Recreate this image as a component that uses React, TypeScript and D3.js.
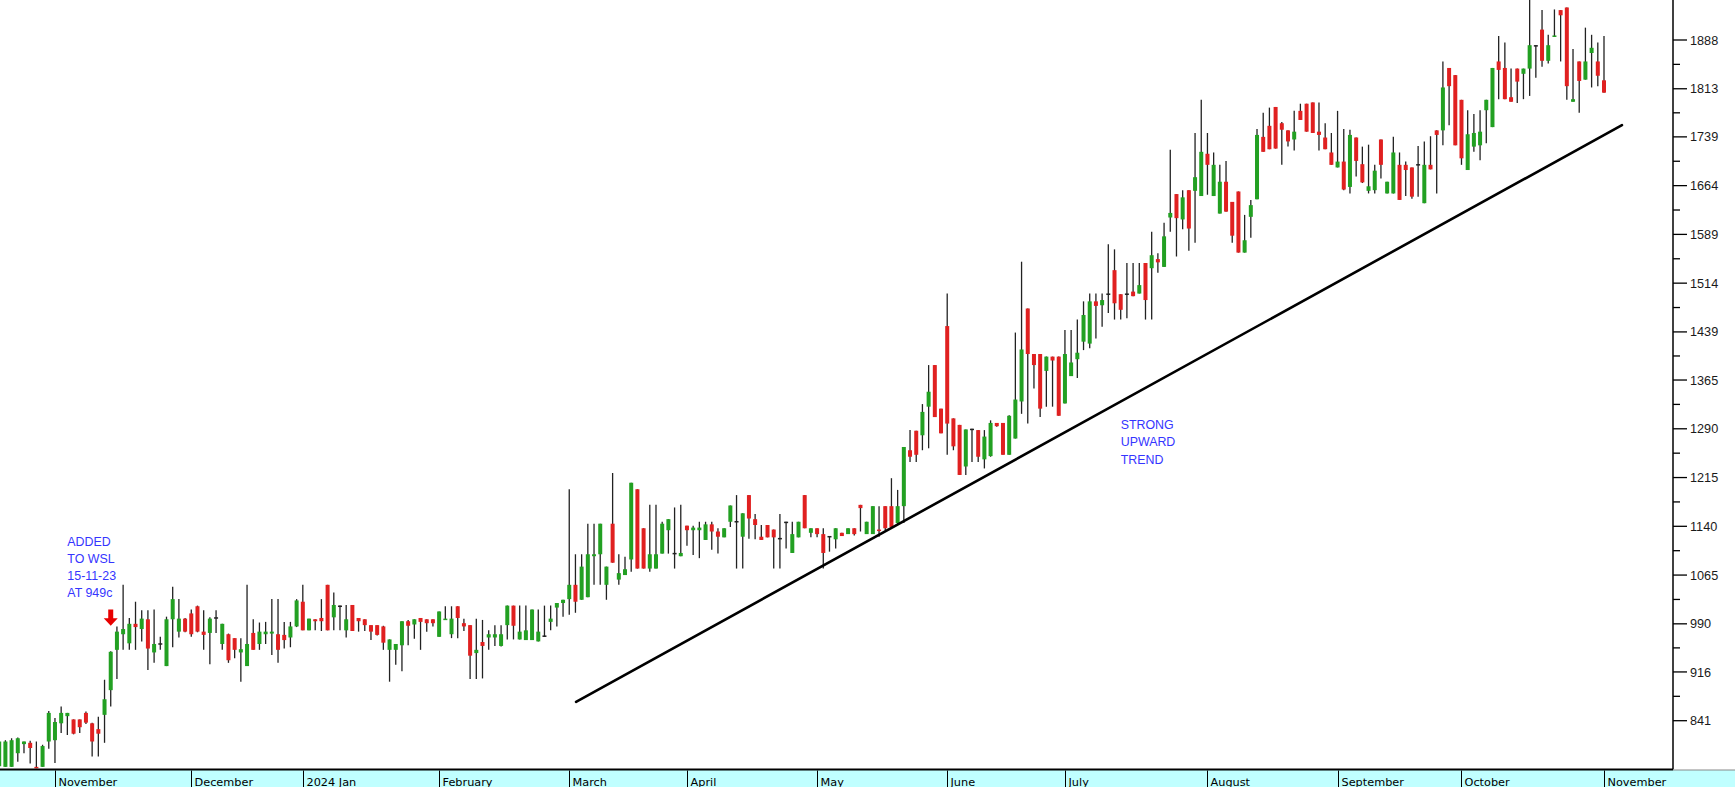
import React from 'react';
import * as d3 from 'd3';

// ---- data ----
const opens = [
  771, 770, 770, 791, 805, 807, 770, 770, 809, 811,
  837, 848, 843, 843, 853, 837, 828, 850, 888, 950,
  974, 960, 990, 982, 997, 946, 959, 925, 997, 978,
  998, 1006, 1017, 978, 976, 999, 959, 974, 968, 946,
  925, 976, 959, 974, 975, 974, 973, 969, 986, 1024,
  980, 997, 999, 1050, 1000, 1017, 980, 1019, 999, 997,
  988, 988, 986, 950, 950, 957, 994, 989, 999, 997,
  997, 970, 996, 974, 1017, 991, 988, 945, 962, 969,
  969, 956, 988, 1018, 966, 965, 965, 963, 971, 993,
  1015, 1022, 1028, 1050, 1027, 1031, 1094, 1097, 1050, 1144,
  1058, 1065, 1089, 1197, 1137, 1075, 1075, 1098, 1134, 1098,
  1094, 1141, 1134, 1134, 1119, 1143, 1132, 1123, 1147, 1147,
  1124, 1188, 1151, 1124, 1142, 1135, 1121, 1146, 1099, 1123,
  1188, 1130, 1137, 1128, 1124, 1120, 1130, 1128, 1137, 1173,
  1128, 1128, 1135, 1171, 1171, 1145, 1171, 1257, 1287, 1280,
  1324, 1388, 1321, 1448, 1306, 1296, 1232, 1289, 1288, 1243,
  1248, 1299, 1299, 1250, 1275, 1332, 1475, 1405, 1405, 1379,
  1401, 1401, 1329, 1371, 1397, 1424, 1421, 1486, 1480, 1497,
  1534, 1497, 1497, 1501, 1498, 1545, 1537, 1551, 1539, 1615,
  1651, 1612, 1657, 1656, 1648, 1713, 1648, 1621, 1670, 1639,
  1655, 1561, 1616, 1643, 1739, 1756, 1785, 1760, 1749, 1735,
  1779, 1790, 1792, 1747, 1738, 1715, 1692, 1701, 1662, 1738,
  1697, 1656, 1657, 1735, 1652, 1652, 1696, 1696, 1692, 1696,
  1637, 1696, 1749, 1749, 1845, 1834, 1796, 1688, 1724, 1726,
  1780, 1754, 1855, 1845, 1800, 1844, 1836, 1844, 1879, 1904,
  1856, 1893, 1934, 1938, 1793, 1855, 1827, 1868, 1855, 1826,
];
const highs = [
  812, 811, 814, 815, 809, 810, 809, 804, 856, 845,
  863, 853, 843, 843, 855, 838, 847, 904, 948, 986,
  1050, 999, 1024, 1011, 1011, 1012, 970, 1001, 1047, 1028,
  999, 1012, 1018, 1011, 1000, 1011, 990, 975, 968, 968,
  1050, 997, 992, 993, 1028, 1028, 993, 993, 1028, 1050,
  998, 997, 1028, 1050, 1038, 1018, 1019, 1019, 999, 997,
  988, 988, 987, 966, 959, 994, 996, 997, 999, 997,
  997, 1009, 1017, 1017, 1017, 998, 988, 998, 996, 980,
  988, 988, 1018, 1018, 1018, 1018, 1012, 1012, 1018, 1018,
  1022, 1027, 1197, 1097, 1097, 1144, 1144, 1144, 1078, 1222,
  1097, 1093, 1207, 1197, 1137, 1173, 1173, 1147, 1151, 1169,
  1173, 1141, 1141, 1147, 1147, 1147, 1137, 1137, 1172, 1188,
  1160, 1188, 1159, 1142, 1142, 1135, 1159, 1147, 1147, 1147,
  1188, 1137, 1137, 1137, 1125, 1137, 1130, 1137, 1137, 1173,
  1147, 1171, 1171, 1171, 1214, 1196, 1262, 1288, 1287, 1328,
  1388, 1388, 1321, 1498, 1306, 1296, 1289, 1290, 1288, 1288,
  1303, 1299, 1299, 1311, 1438, 1547, 1475, 1405, 1405, 1401,
  1401, 1401, 1442, 1442, 1458, 1486, 1498, 1498, 1498, 1574,
  1566, 1497, 1545, 1545, 1545, 1545, 1593, 1560, 1607, 1719,
  1651, 1657, 1657, 1745, 1796, 1745, 1715, 1696, 1702, 1639,
  1655, 1619, 1642, 1751, 1776, 1784, 1785, 1762, 1749, 1779,
  1790, 1790, 1792, 1792, 1760, 1745, 1779, 1751, 1750, 1738,
  1724, 1727, 1696, 1735, 1670, 1739, 1715, 1701, 1692, 1725,
  1732, 1740, 1749, 1855, 1845, 1834, 1796, 1780, 1774, 1780,
  1796, 1845, 1894, 1884, 1844, 1844, 1844, 1960, 1880, 1934,
  1896, 1935, 1934, 1938, 1874, 1855, 1907, 1896, 1884, 1894,
];
const lows = [
  768, 770, 770, 778, 791, 775, 768, 770, 798, 776,
  822, 819, 820, 822, 836, 786, 786, 807, 863, 905,
  950, 950, 950, 963, 919, 930, 950, 925, 954, 969,
  977, 970, 977, 950, 928, 976, 950, 930, 937, 901,
  925, 950, 950, 959, 942, 930, 952, 954, 985, 980,
  980, 980, 979, 980, 980, 980, 969, 979, 978, 979,
  965, 972, 950, 901, 927, 917, 957, 967, 950, 978,
  986, 970, 996, 968, 968, 979, 905, 905, 906, 950,
  956, 955, 966, 966, 966, 965, 965, 963, 970, 980,
  986, 1001, 1004, 1007, 1027, 1031, 1050, 1050, 1027, 1084,
  1050, 1065, 1070, 1075, 1075, 1070, 1075, 1098, 1098, 1075,
  1094, 1110, 1096, 1091, 1119, 1104, 1098, 1123, 1139, 1075,
  1075, 1121, 1120, 1119, 1123, 1075, 1075, 1106, 1099, 1123,
  1137, 1123, 1123, 1075, 1101, 1106, 1125, 1128, 1126, 1132,
  1128, 1128, 1124, 1134, 1139, 1142, 1145, 1239, 1239, 1257,
  1260, 1308, 1283, 1250, 1257, 1219, 1219, 1239, 1239, 1229,
  1247, 1293, 1250, 1250, 1275, 1313, 1298, 1352, 1308, 1324,
  1324, 1310, 1329, 1371, 1368, 1411, 1414, 1429, 1447, 1468,
  1458, 1458, 1460, 1494, 1498, 1458, 1458, 1530, 1539, 1593,
  1555, 1597, 1564, 1576, 1648, 1650, 1648, 1621, 1624, 1576,
  1561, 1561, 1584, 1643, 1716, 1720, 1721, 1696, 1724, 1718,
  1765, 1747, 1745, 1718, 1720, 1696, 1692, 1657, 1652, 1678,
  1668, 1652, 1652, 1675, 1652, 1652, 1642, 1648, 1644, 1647,
  1637, 1689, 1652, 1726, 1757, 1726, 1696, 1688, 1716, 1703,
  1729, 1754, 1797, 1797, 1793, 1791, 1797, 1802, 1830, 1847,
  1852, 1893, 1855, 1796, 1793, 1776, 1827, 1815, 1817, 1807,
];
const closes = [
  809, 809, 811, 814, 809, 799, 768, 802, 853, 839,
  853, 853, 821, 831, 838, 809, 821, 874, 947, 978,
  982, 990, 985, 998, 952, 959, 959, 997, 1028, 998,
  978, 974, 978, 973, 998, 999, 990, 934, 950, 951,
  959, 950, 978, 978, 978, 950, 965, 986, 1026, 980,
  998, 994, 994, 980, 1019, 1017, 997, 979, 994, 988,
  978, 973, 961, 966, 959, 994, 987, 997, 993, 991,
  991, 1009, 998, 998, 999, 986, 941, 950, 956, 974,
  974, 974, 1018, 987, 978, 980, 1012, 978, 971, 998,
  1022, 1027, 1050, 1024, 1078, 1097, 1097, 1144, 1078, 1084,
  1068, 1074, 1207, 1075, 1075, 1097, 1097, 1144, 1151, 1098,
  1099, 1134, 1138, 1138, 1143, 1132, 1124, 1137, 1172, 1147,
  1160, 1152, 1142, 1119, 1123, 1123, 1121, 1146, 1128, 1147,
  1137, 1137, 1128, 1099, 1124, 1137, 1125, 1137, 1128, 1168,
  1147, 1171, 1133, 1137, 1139, 1171, 1262, 1247, 1250, 1316,
  1347, 1308, 1283, 1298, 1263, 1219, 1289, 1289, 1247, 1278,
  1299, 1294, 1250, 1310, 1335, 1412, 1405, 1388, 1321, 1401,
  1395, 1310, 1405, 1392, 1407, 1465, 1486, 1479, 1488, 1497,
  1483, 1473, 1497, 1494, 1511, 1488, 1557, 1546, 1586, 1622,
  1614, 1646, 1598, 1677, 1716, 1696, 1696, 1670, 1624, 1587,
  1561, 1580, 1634, 1742, 1716, 1720, 1721, 1750, 1732, 1747,
  1765, 1747, 1745, 1742, 1720, 1696, 1701, 1658, 1742, 1702,
  1669, 1663, 1687, 1696, 1670, 1715, 1642, 1688, 1647, 1696,
  1696, 1689, 1742, 1815, 1817, 1726, 1706, 1743, 1745, 1747,
  1796, 1845, 1842, 1797, 1793, 1824, 1844, 1880, 1879, 1856,
  1880, 1895, 1926, 1817, 1797, 1825, 1855, 1876, 1833, 1807,
];

const yTicks = [841, 916, 990, 1065, 1140, 1215, 1290, 1365, 1439, 1514, 1589, 1664, 1739, 1813, 1888];
const monthLabels = ['November', 'December', '2024 Jan', 'February', 'March', 'April', 'May', 'June', 'July', 'August', 'September', 'October', 'November'];
const monthSepIndex = [9, 31, 49, 71, 92, 111, 132, 153, 172, 195, 216, 236, 259];

const trendLine = [
  { i: 93.1, v: 870 },
  { i: 261.9, v: 1757 },
];

const noteAdded = ['ADDED', 'TO WSL', '15-11-23', 'AT 949c'];
const noteAddedAnchor = { i: 11, v: 1110 };
const arrowCandle = 18;
const arrowRange = { top: 1012, tip: 987 };
const noteTrend = ['STRONG', 'UPWARD', 'TREND'];
const noteTrendAnchor = { i: 181, v: 1290 };

// ---- layout ----
const W = 1735;
const H = 787;
const plotRight = 1673;
const plotBottom = 769.5;

const GREEN = '#22a022';
const RED = '#e02020';
const WICK = '#222222';
const NOTE = '#3535ff';

export default function App() {
  const n = closes.length;
  const x = d3.scaleLinear().domain([0, n - 1]).range([-0.8, 1604]);
  const y = d3.scaleLinear().domain([841, 1888]).range([720.7, 40]);
  const bodyW = 4;

  const minorTicks = yTicks.slice(0, -1).map((t, k) => (y(t) + y(yTicks[k + 1])) / 2);

  const trendPath = d3
    .line<{ i: number; v: number }>()
    .x((d) => x(d.i))
    .y((d) => y(d.v))(trendLine) as string;

  const ax = x(arrowCandle);
  const aTop = y(arrowRange.top);
  const aTip = y(arrowRange.tip);
  const aMid = aTop + (aTip - aTop) * 0.53;
  const arrowPts = [
    [ax - 2.5, aTop],
    [ax + 2.5, aTop],
    [ax + 2.5, aMid],
    [ax + 7, aMid],
    [ax, aTip],
    [ax - 7, aMid],
    [ax - 2.5, aMid],
  ]
    .map((p) => p.join(','))
    .join(' ');

  return (
    <svg
      width={W}
      height={H}
      style={{ position: 'absolute', left: 0, top: 0, background: '#fff' }}
      xmlns="http://www.w3.org/2000/svg"
    >
      <defs>
        <clipPath id="plotClip">
          <rect x={0} y={0} width={plotRight} height={plotBottom - 0.5} />
        </clipPath>
      </defs>
      <rect x={0} y={0} width={W} height={H} fill="#ffffff" />

      <g clipPath="url(#plotClip)">
        {closes.map((c, i) => {
          const o = opens[i];
          const cx = x(i);
          const top = y(Math.max(o, c));
          const bot = y(Math.min(o, c));
          const h = Math.max(bot - top, 1.5);
          const col = c > o ? GREEN : c < o ? RED : WICK;
          return (
            <g key={i}>
              <line x1={cx} x2={cx} y1={y(highs[i])} y2={y(lows[i])} stroke={WICK} strokeWidth={1.3} />
              <rect x={cx - bodyW / 2} y={c === o ? top - 0.75 : top} width={bodyW} height={h} fill={col} />
            </g>
          );
        })}
        <path d={trendPath} stroke="#000" strokeWidth={2.6} fill="none" strokeLinecap="round" />
        <polygon points={arrowPts} fill="#e80000" />
        {noteAdded.map((t, k) => (
          <text
            key={t}
            x={x(noteAddedAnchor.i)}
            y={y(noteAddedAnchor.v) + k * 17.2}
            fontFamily="Liberation Sans, Arial, sans-serif"
            fontSize={12.4}
            fill={NOTE}
          >
            {t}
          </text>
        ))}
        {noteTrend.map((t, k) => (
          <text
            key={t}
            x={x(noteTrendAnchor.i)}
            y={y(noteTrendAnchor.v) + k * 17.4}
            fontFamily="Liberation Sans, Arial, sans-serif"
            fontSize={12.4}
            fill={NOTE}
          >
            {t}
          </text>
        ))}
      </g>

      {/* right axis */}
      <line x1={plotRight} x2={plotRight} y1={0} y2={plotBottom} stroke="#000" strokeWidth={1.5} />
      {yTicks.map((t) => (
        <g key={t}>
          <line x1={plotRight} x2={plotRight + 14} y1={y(t)} y2={y(t)} stroke="#000" strokeWidth={1.3} />
          <text
            x={plotRight + 17}
            y={y(t)}
            dy="0.36em"
            fontFamily="Liberation Sans, Arial, sans-serif"
            fontSize={12.7}
            fill="#1a1a1a"
          >
            {t}
          </text>
        </g>
      ))}
      {minorTicks.map((yy, k) => (
        <line key={k} x1={plotRight} x2={plotRight + 7} y1={yy} y2={yy} stroke="#000" strokeWidth={1.3} />
      ))}

      {/* month bar */}
      <rect x={0} y={plotBottom + 0.5} width={W} height={H - plotBottom} fill="#c0ffff" />
      <line x1={plotRight} x2={W} y1={plotBottom + 0.5} y2={plotBottom + 0.5} stroke="#888" strokeWidth={1} />
      <line x1={0} x2={plotRight} y1={plotBottom} y2={plotBottom} stroke="#000" strokeWidth={2} />
      {monthSepIndex.map((si, k) => {
        const sx = Math.round(x(si)) + 0.5;
        return (
          <g key={k}>
            <line x1={sx} x2={sx} y1={plotBottom + 1} y2={H} stroke="#000" strokeWidth={1} />
            <text x={sx + 3} y={H - 1.5} fontFamily="DejaVu Sans, Verdana, sans-serif" fontSize={11.3} fill="#000">
              {monthLabels[k]}
            </text>
          </g>
        );
      })}
    </svg>
  );
}
